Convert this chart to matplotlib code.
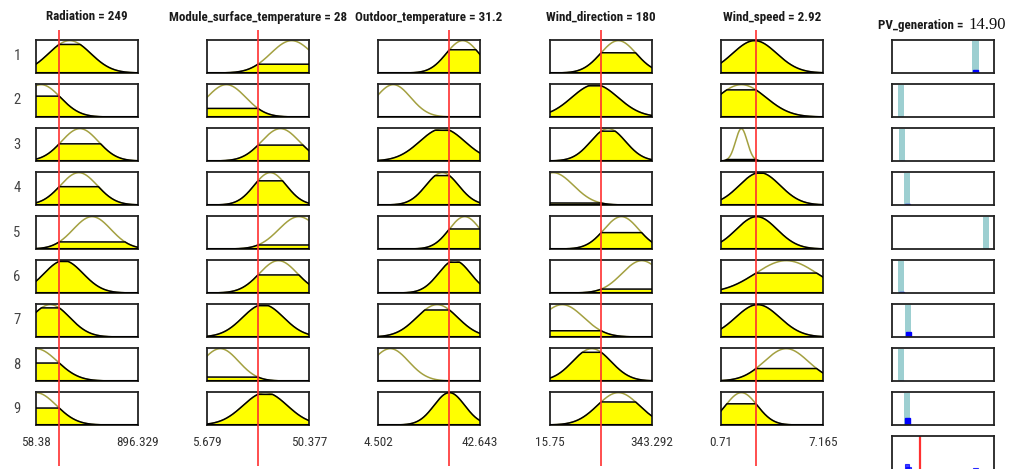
import numpy as np
import matplotlib
matplotlib.use("Agg")
import matplotlib.pyplot as plt
from matplotlib import font_manager

# inputs of the fuzzy inference system and the crisp values fed in
input_names = ["Radiation", "Module_surface_temperature", "Outdoor_temperature",
               "Wind_direction", "Wind_speed"]
input_values = [249, 28, 31.2, 180, 2.92]
input_ranges = [(58.38, 896.329), (5.679, 50.377), (4.502, 42.643),
                (15.75, 343.292), (0.71, 7.165)]

# gaussian membership functions used by rules 1..9 (centre, sigma) per input
rad_centres = [335, 100, 419, 410, 519, 285, 176, 58, 58]
rad_sigmas = [172, 159, 151, 151, 155, 159, 159, 176, 168]
mst_centres = [42.78, 14.17, 37.86, 33.39, 45.91, 36.97, 30.26, 11.49, 31.16]
mst_sigmas = [9.16, 8.49, 8.27, 7.06, 8.76, 8.31, 8.94, 8.05, 9.61]
out_centres = [36.16, 10.22, 28.53, 28.53, 36.92, 33.11, 26.62, 9.08, 31.2]
out_sigmas = [6.10, 6.48, 8.39, 6.10, 5.84, 5.99, 7.63, 6.87, 5.72]
wd_centres = [235.2, 159.9, 202.4, 25.6, 245.0, 310.5, 55.1, 150.0, 235.2]
wd_sigmas = [57.0, 74.0, 55.7, 65.5, 55.7, 63.5, 68.8, 61.3, 67.1]
ws_centres = [2.84, 2.00, 2.00, 3.16, 2.97, 4.84, 3.03, 4.84, 2.00]
ws_sigmas = [1.39, 1.55, 0.37, 1.29, 1.29, 1.95, 1.39, 1.39, 1.00]

# sugeno output constants of each rule and the defuzzified result
pv_name = "PV_generation"
pv_range = (0, 54.2)
pv_consts = [44.4, 4.6, 5.4, 8.1, 49.9, 4.9, 8.7, 4.9, 8.1]
pv_value = 14.90

centres = [rad_centres, mst_centres, out_centres, wd_centres, ws_centres]
sigmas = [rad_sigmas, mst_sigmas, out_sigmas, wd_sigmas, ws_sigmas]
n_rules = len(pv_consts)

W, H = 1015, 469
fig = plt.figure(figsize=(W / 100, H / 100), dpi=100)
fig.patch.set_facecolor("white")

installed = {f.name for f in font_manager.fontManager.ttflist}
narrow = next((f for f in ["Liberation Sans Narrow", "DejaVu Sans Condensed",
                           "Roboto Condensed", "Liberation Sans"] if f in installed),
              "DejaVu Sans")

YELLOW = "#ffff00"
OLIVE = "#a3a040"
TEAL = "#9dcfd1"
BLUE = "#0000ff"
RED = "#ff3030"
EDGE = "#222222"

col_left = [36, 207, 378, 550, 721, 892]
box_w, box_h = 102, 33
row_top0, row_step = 40, 44


def px_axes(x, y, w, h):
    return fig.add_axes([x / W, 1 - (y + h) / H, w / W, h / H])


def boxed(ax):
    ax.set_xticks([])
    ax.set_yticks([])
    for s in ax.spines.values():
        s.set_color(EDGE)
        s.set_linewidth(1.3)


def gauss(x, c, s):
    return np.exp(-((x - c) ** 2) / (2 * s ** 2))


firing = np.ones(n_rules)

for j in range(5):
    lo, hi = input_ranges[j]
    xs = np.linspace(lo, hi, 300)
    for r in range(n_rules):
        ax = px_axes(col_left[j], row_top0 + r * row_step, box_w, box_h)
        mu = gauss(xs, centres[j][r], sigmas[j][r])
        level = gauss(input_values[j], centres[j][r], sigmas[j][r])
        firing[r] *= level
        clipped = np.minimum(mu, level)
        ax.plot(xs, mu, color=OLIVE, lw=1.1, zorder=1)
        ax.fill_between(xs, 0, clipped, color=YELLOW, lw=0, zorder=2)
        ax.plot(xs, clipped, color="black", lw=1.1, zorder=3)
        ax.axhline(0, color="black", lw=1.5, zorder=3)
        ax.set_xlim(lo, hi)
        ax.set_ylim(0, 1.02)
        boxed(ax)

    cx = col_left[j] + box_w / 2
    fig.text(cx / W, 1 - 17 / H, f"{input_names[j]} = {input_values[j]:g}",
             ha="center", va="center", fontsize=9.4, family=narrow,
             fontweight="bold", color="#1a1a1a")
    for xe, v in zip([col_left[j], col_left[j] + box_w], [lo, hi]):
        fig.text(xe / W, 1 - 442 / H, f"{v:g}", ha="center", va="center",
                 fontsize=9.5, family=narrow, color="#333333")

# rule numbers
for r in range(n_rules):
    yc = row_top0 + r * row_step + box_h / 2
    fig.text(17 / W, 1 - yc / H, str(r + 1), ha="center", va="center",
             fontsize=10.5, family=narrow, color="#444444")

# output column: rule constants with firing strength bars
lo, hi = pv_range
bar_w = 0.06 * (hi - lo)
for r in range(n_rules):
    ax = px_axes(col_left[5], row_top0 + r * row_step, box_w, box_h)
    ax.bar(pv_consts[r], 1.0, width=bar_w, color=TEAL, lw=0, zorder=1)
    ax.bar(pv_consts[r], firing[r], width=bar_w * 0.85, color=BLUE,
           edgecolor=BLUE, lw=1.0, zorder=2)
    ax.set_xlim(lo, hi)
    ax.set_ylim(0, 1.02)
    boxed(ax)

# aggregated output
ax = px_axes(col_left[5], 436, box_w, 36)
ax.bar(pv_consts, firing, width=bar_w * 0.7, color=BLUE, edgecolor=BLUE,
       lw=0.8, alpha=0.75)
ax.axvline(pv_value, color=RED, lw=1.6)
ax.set_xlim(lo, hi)
ax.set_ylim(0, 1.02)
boxed(ax)

fig.text(966 / W, 1 - 26 / H, f"{pv_name} = ", ha="right", va="center",
         fontsize=9.4, family=narrow, fontweight="bold", color="#1a1a1a")
fig.text(968 / W, 1 - 25 / H, f"{pv_value:.2f}", ha="left", va="center",
         fontsize=12, family="Liberation Serif", color="#111111")

# input value indicators running through all rule rows
for j in range(5):
    lo, hi = input_ranges[j]
    ov = px_axes(col_left[j], 30, box_w, 436)
    ov.set_xlim(lo, hi)
    ov.set_ylim(0, 1)
    ov.axvline(input_values[j], color=RED, lw=1.2)
    ov.axis("off")
    ov.patch.set_alpha(0)

fig.savefig("out.png", dpi=100, facecolor="white")
